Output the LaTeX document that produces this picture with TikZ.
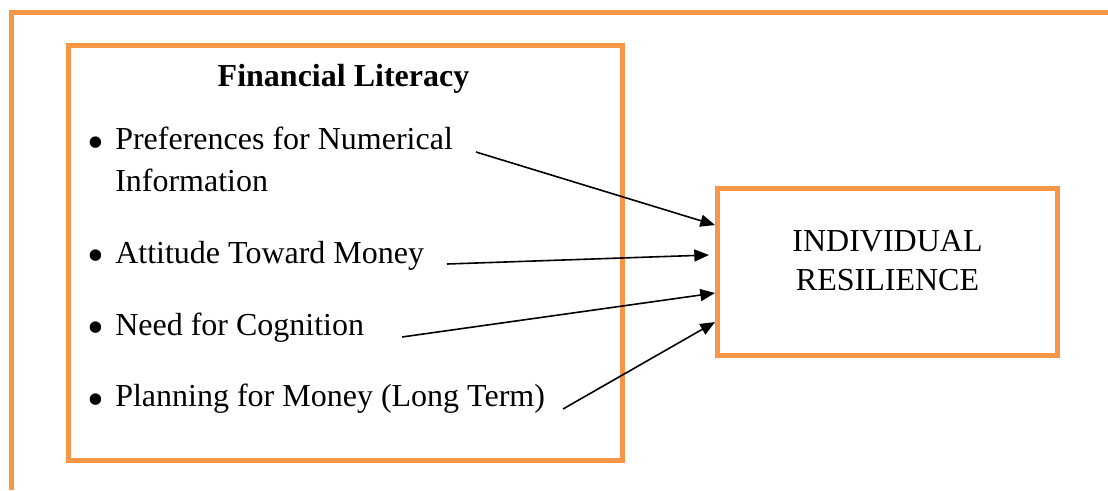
\documentclass[tikz,border=0pt]{standalone}
\usepackage{fontspec}
\usepackage{graphicx}
\setmainfont{Liberation Serif}
\usetikzlibrary{arrows.meta,calc}
\definecolor{frameorange}{RGB}{247,150,70}
\newcommand{\bul}{\llap{\raisebox{-6.5pt}{\scalebox{1.5}{\textbullet}}\hspace{8pt}}}
\tikzset{
  frameline/.style={draw=frameorange, line width=3.75pt},
  itemtext/.style={anchor=base west, inner sep=0pt, align=left, font=\fontsize{24}{31.3}\selectfont},
  link/.style={-{Triangle[length=11pt,width=9pt]}, line width=1.2pt},
}

\begin{document}
\begin{tikzpicture}[x=0.75pt,y=0.75pt,yscale=-1,xscale=1]
\useasboundingbox (0,0) rectangle (1108,490);

%Straight Lines [outer frame]
\draw [frameline] (11.5,490) -- (11.5,12.5) -- (1108,12.5) ;

%Shape: Rectangle [financial literacy]
\node [frameline, minimum width=415.5pt, minimum height=311.25pt, inner sep=0pt] (lit) at (345,252.5) {};
%Shape: Rectangle [individual resilience]
\node [frameline, minimum width=255pt, minimum height=125.25pt, inner sep=0pt] (res) at (887.5,271.5) {};

% Text Node
\node [anchor=base, inner sep=0pt, font=\fontsize{24}{31.3}\selectfont\bfseries] (littitle) at (343.5,86.7) {Financial Literacy};
% Text Node (base = last line)
\node [itemtext] (numinfo) at (115,191.7) {\bul Preferences for Numerical\\Information};
% Text Node
\node [itemtext] (attitude) at (115,263.3) {\bul Attitude Toward Money};
% Text Node
\node [itemtext] (cognition) at (115,335) {\bul Need for Cognition};
% Text Node
\node [itemtext] (planning) at (115,406.7) {\bul Planning for Money (Long Term)};
% Text Node (base = last line)
\node [anchor=base, inner sep=0pt, align=center, font=\fontsize{24}{29.3}\selectfont] (restxt) at (887.5,290.7) {INDIVIDUAL\\RESILIENCE};

%Straight Lines
\coordinate (s1) at (476,152);
\coordinate (s2) at (447,264);
\coordinate (s3) at (402,337);
\coordinate (s4) at (563,409);
\draw [link] (s1) -- ($(res.north west)!0.23!(res.south west)$) ;
\draw [link] (s2) -- ($($(res.north west)!0.404!(res.south west)$)+(-6,0)$) ;
\draw [link] (s3) -- ($(res.north west)!0.625!(res.south west)$) ;
\draw [link] (s4) -- ($(res.north west)!0.794!(res.south west)$) ;

\end{tikzpicture}
\end{document}
